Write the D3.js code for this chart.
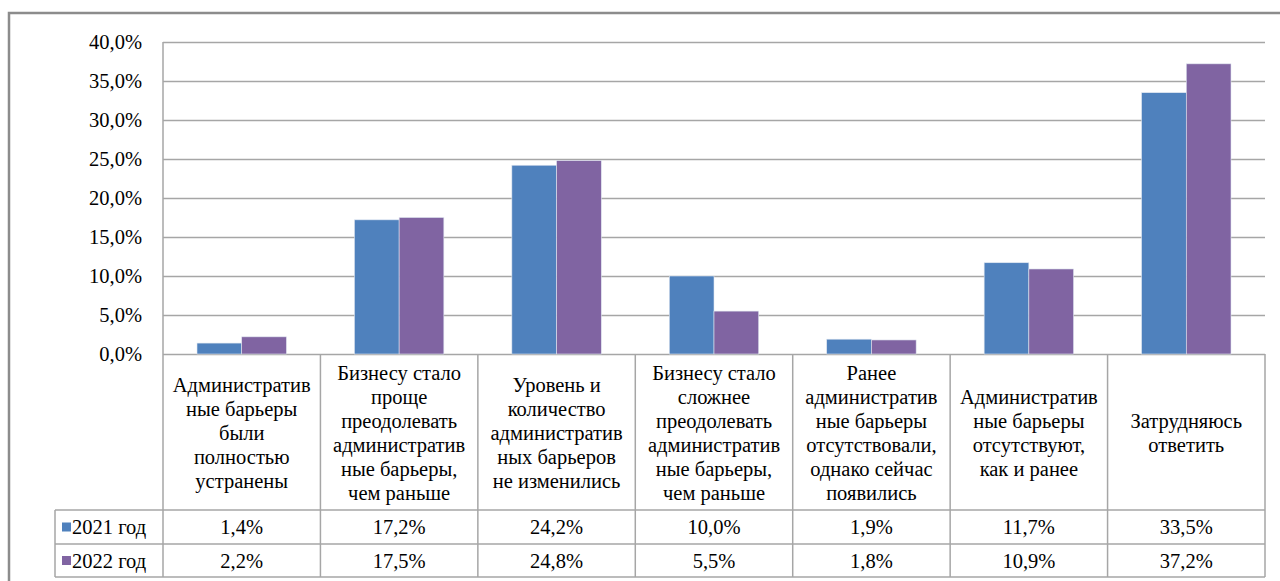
<!DOCTYPE html>
<html>
<head>
<meta charset="utf-8">
<script src="https://cdn.jsdelivr.net/npm/d3@7"></script>
<style>
	body { margin: 0; background: #fff; }
</style>
</head>
<body>
<svg id="chart" width="1280" height="581"></svg>
<script>
// category labels, broken into lines as in the source table
var categories = [
	["Административ", "ные барьеры", "были", "полностью", "устранены"],
	["Бизнесу стало", "проще", "преодолевать", "административ", "ные барьеры,", "чем раньше"],
	["Уровень и", "количество", "административ", "ных барьеров", "не изменились"],
	["Бизнесу стало", "сложнее", "преодолевать", "административ", "ные барьеры,", "чем раньше"],
	["Ранее", "административ", "ные барьеры", "отсутствовали,", "однако сейчас", "появились"],
	["Административ", "ные барьеры", "отсутствуют,", "как и ранее"],
	["Затрудняюсь", "ответить"]
];
var seriesNames = ["2021 год", "2022 год"];
var values2021 = [0.014, 0.172, 0.242, 0.100, 0.019, 0.117, 0.335];
var values2022 = [0.022, 0.175, 0.248, 0.055, 0.018, 0.109, 0.372];
var colors = ["#4F81BD", "#8064A2"];
var yTicks = [0, 0.05, 0.10, 0.15, 0.20, 0.25, 0.30, 0.35, 0.40];

var series = [values2021, values2022];
var serifFont = "Liberation Serif";
var fontSize = "20.5px";

var svg = d3.select("#chart");

var ru = d3.formatLocale({decimal: ",", thousands: " ", grouping: [3], currency: ["", ""]});
var fmtAxis = ru.format(".1%");
var fmtVal = ru.format(".1%");

// layout
var plotLeft = 163, plotRight = 1265, plotTop = 42, base = 354;
var catBottom = 510, row1 = 544, row2 = 577, legendLeft = 55;

// outer frame
svg.append("rect")
	.attr("x", 9).attr("y", 13)
	.attr("width", 1320).attr("height", 620)
	.attr("fill", "none")
	.attr("stroke", "#8c8c8c")
	.attr("stroke-width", 2.5);

var x0 = d3.scaleBand()
	.domain(d3.range(categories.length))
	.range([plotLeft, plotRight]);
var bw = x0.bandwidth();
var x1 = d3.scaleBand()
	.domain(d3.range(series.length))
	.range([bw * 0.216, bw * 0.784]);
var y = d3.scaleLinear().domain([0, 0.4]).range([base, plotTop]);

// gridlines
svg.append("g")
	.selectAll("line")
	.data(yTicks)
	.enter().append("line")
		.attr("x1", plotLeft).attr("x2", plotRight)
		.attr("y1", function(d){ return Math.round(y(d)) + 0.5; })
		.attr("y2", function(d){ return Math.round(y(d)) + 0.5; })
		.attr("stroke", "#a6a6a6")
		.attr("stroke-width", 1.5);

// y axis labels
var yAxis = d3.axisLeft(y).tickValues(yTicks).tickFormat(fmtAxis).tickSize(0).tickPadding(21);
var gy = svg.append("g")
	.attr("transform", "translate(" + plotLeft + ",0)")
	.call(yAxis);
gy.select(".domain").remove();
gy.selectAll("text")
	.style("font-family", serifFont)
	.style("font-size", fontSize)
	.attr("fill", "#000");

// bars
for(var s = 0; s < series.length; s++){
	svg.append("g")
		.selectAll("rect")
		.data(series[s])
		.enter().append("rect")
			.attr("x", function(d, i){ return x0(i) + x1(s); })
			.attr("y", function(d){ return y(d); })
			.attr("width", x1.bandwidth())
			.attr("height", function(d){ return base - y(d); })
			.attr("fill", colors[s])
			.attr("stroke", "#dfe6f0")
			.attr("stroke-width", 0.6);
}

// data table
var tg = svg.append("g").attr("stroke", "#a6a6a6").attr("stroke-width", 1.5);
// left axis line through table
tg.append("line").attr("x1", plotLeft).attr("x2", plotLeft).attr("y1", plotTop).attr("y2", row2);
// vertical separators
for(var i = 1; i <= categories.length; i++){
	var xx = i === categories.length ? plotRight : x0(i);
	tg.append("line").attr("x1", xx).attr("x2", xx).attr("y1", base).attr("y2", row2);
}
tg.append("line").attr("x1", legendLeft).attr("x2", legendLeft).attr("y1", catBottom).attr("y2", row2);
tg.append("line").attr("x1", legendLeft).attr("x2", plotRight).attr("y1", catBottom).attr("y2", catBottom);
tg.append("line").attr("x1", legendLeft).attr("x2", plotRight).attr("y1", row1).attr("y2", row1);
tg.append("line").attr("x1", legendLeft).attr("x2", plotRight).attr("y1", row2).attr("y2", row2);

// category labels
var lh = 24;
categories.forEach(function(lines, i){
	var cx = x0(i) + bw / 2;
	var cy = (base + catBottom) / 2 + 1;
	var t = svg.append("text")
		.attr("text-anchor", "middle")
		.style("font-family", serifFont)
		.style("font-size", fontSize)
		.attr("fill", "#000");
	lines.forEach(function(line, k){
		t.append("tspan")
			.attr("x", cx)
			.attr("y", cy + (k - (lines.length - 1) / 2) * lh)
			.attr("dy", "0.35em")
			.text(line);
	});
});

// rows of values with legend keys
var rowTops = [catBottom, row1];
var rowBots = [row1, row2];
series.forEach(function(vals, s){
	var cy = (rowTops[s] + rowBots[s]) / 2;
	svg.append("rect")
		.attr("x", 62).attr("y", cy - 4.5)
		.attr("width", 9).attr("height", 9)
		.attr("fill", colors[s]);
	svg.append("text")
		.attr("x", 72).attr("y", cy).attr("dy", "0.35em")
		.style("font-family", serifFont)
		.style("font-size", fontSize)
		.text(seriesNames[s]);
	svg.append("g")
		.selectAll("text")
		.data(vals)
		.enter().append("text")
			.attr("x", function(d, i){ return x0(i) + bw / 2; })
			.attr("y", cy).attr("dy", "0.35em")
			.attr("text-anchor", "middle")
			.style("font-family", serifFont)
			.style("font-size", fontSize)
			.text(function(d){ return fmtVal(d); });
});
</script>
</body>
</html>
